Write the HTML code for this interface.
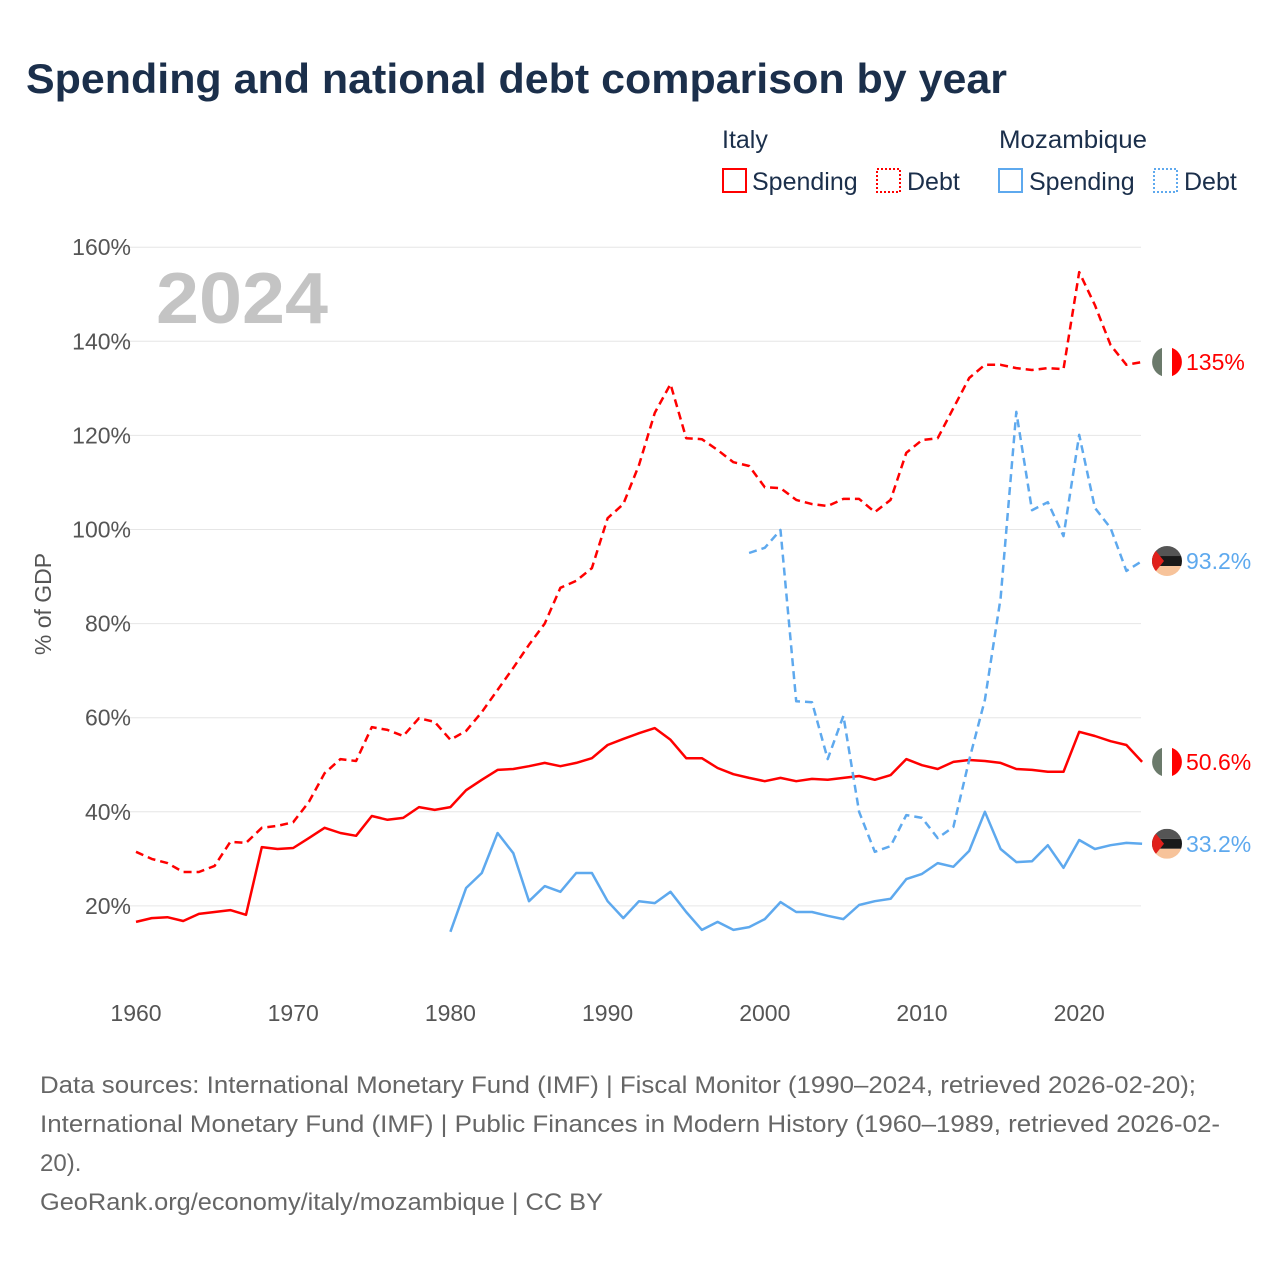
<!DOCTYPE html>
<html><head><meta charset="utf-8">
<style>
html,body{margin:0;padding:0;background:#fff;}
body{width:1280px;height:1280px;overflow:hidden;font-family:"Liberation Sans",sans-serif;}
svg text{font-family:"Liberation Sans",sans-serif;}
</style></head>
<body>
<svg id="chart" width="1280" height="1280" viewBox="0 0 1280 1280">
<text x="26" y="93" font-size="42" font-weight="bold" fill="#1b2f4b" textLength="981" lengthAdjust="spacingAndGlyphs">Spending and national debt comparison by year</text>
<g font-size="25" fill="#1b2f4b">
  <text x="722" y="148">Italy</text>
  <text x="999" y="148" textLength="148" lengthAdjust="spacingAndGlyphs">Mozambique</text>
  <g><rect x="723" y="169" width="23" height="23" fill="none" stroke="#ff0000" stroke-width="2"/><text x="752" y="190">Spending</text></g>
  <g><rect x="877" y="169" width="23" height="23" fill="none" stroke="#ff0000" stroke-width="2" stroke-dasharray="2,2"/><text x="907" y="190">Debt</text></g>
  <g><rect x="999" y="169" width="23" height="23" fill="none" stroke="#5ea9ee" stroke-width="2"/><text x="1029" y="190">Spending</text></g>
  <g><rect x="1154" y="169" width="23" height="23" fill="none" stroke="#5ea9ee" stroke-width="2" stroke-dasharray="2,2"/><text x="1184" y="190">Debt</text></g>
</g>
<g id="grid"></g>
<g id="yticks" font-size="23" fill="#555" text-anchor="end"></g>
<g id="xticks" font-size="23" fill="#555" text-anchor="middle"></g>
<text transform="translate(51,604) rotate(-90)" font-size="23" fill="#555" text-anchor="middle">% of GDP</text>
<text x="156" y="323" font-size="72" font-weight="bold" fill="#c4c4c4" textLength="172" lengthAdjust="spacingAndGlyphs">2024</text>
<g id="series"></g>
<g id="endlabels" font-size="23"></g>
<g font-size="24" fill="#666">
<text x="40" y="1093" textLength="1156" lengthAdjust="spacingAndGlyphs">Data sources: International Monetary Fund (IMF) | Fiscal Monitor (1990–2024, retrieved 2026-02-20);</text>
<text x="40" y="1132" textLength="1180" lengthAdjust="spacingAndGlyphs">International Monetary Fund (IMF) | Public Finances in Modern History (1960–1989, retrieved 2026-02-</text>
<text x="40" y="1171">20).</text>
<text x="40" y="1210" textLength="563" lengthAdjust="spacingAndGlyphs">GeoRank.org/economy/italy/mozambique | CC BY</text>
</g>
</svg>
<script>
const yTicks=[20,40,60,80,100,120,140,160];
const xTicks=[1960,1970,1980,1990,2000,2010,2020];
const italyStartYear=1960;
const italySpending=[16.6,17.4,17.6,16.8,18.3,18.7,19.1,18.1,32.5,32.1,32.3,34.4,36.6,35.5,34.9,39.1,38.3,38.7,41.0,40.4,41.0,44.6,46.8,48.9,49.1,49.7,50.4,49.7,50.4,51.4,54.2,55.5,56.7,57.8,55.3,51.4,51.4,49.3,48.0,47.2,46.5,47.2,46.5,47.0,46.8,47.2,47.6,46.8,47.8,51.2,49.9,49.1,50.6,51.0,50.8,50.4,49.1,48.9,48.5,48.5,57.0,56.1,55.0,54.2,50.6];
const italyDebt=[31.5,30.0,29.1,27.2,27.2,28.5,33.6,33.4,36.6,37.0,37.8,42.1,48.2,51.2,50.8,58.0,57.4,56.1,59.9,59.1,55.3,57.2,61.2,65.9,70.6,75.5,80.0,87.6,89.1,91.8,102.4,105.4,113.7,124.8,130.9,119.4,119.2,116.9,114.3,113.5,109.0,108.8,106.3,105.4,105.0,106.5,106.5,103.7,106.3,116.3,119.0,119.4,125.8,132.2,135.0,135.0,134.3,133.9,134.3,134.1,154.7,147.7,139.2,135.0,135.6];
const mozSpendingStart=1980;
const mozSpending=[14.5,23.8,27.0,35.5,31.2,21.0,24.2,23.0,27.0,27.0,21.0,17.4,21.0,20.6,23.0,18.7,14.9,16.6,14.9,15.5,17.2,20.8,18.7,18.7,17.9,17.2,20.2,21.0,21.5,25.7,26.8,29.1,28.3,31.7,40.0,32.1,29.3,29.5,32.9,28.1,34.0,32.1,32.9,33.4,33.2];
const mozDebtStart=1999;
const mozDebt=[95.0,96.1,99.9,63.5,63.3,51.2,60.4,40.0,31.5,32.7,39.3,38.7,34.4,36.8,51.0,63.8,85.4,125.0,104.1,105.8,98.6,120.1,104.6,100.3,91.2,93.3];
const endLabels=["135%","93.2%","50.6%","33.2%"];

const NS="http://www.w3.org/2000/svg";
const X=yr=>136+(yr-1960)*15.72;
const Y=v=>1000-v*4.705;
function mk(tag,attrs,parent){const e=document.createElementNS(NS,tag);for(const k in attrs)e.setAttribute(k,attrs[k]);parent.appendChild(e);return e;}
const grid=document.getElementById('grid'),yt=document.getElementById('yticks'),xt=document.getElementById('xticks');
yTicks.forEach(v=>{
  const l=mk('line',{x1:110,x2:1141,y1:Y(v),y2:Y(v),stroke:'#e6e6e6','stroke-width':1},grid);
  
  
  const t=mk('text',{x:131,y:Y(v)+8},yt);t.textContent=v+'%';
  
  
});
xTicks.forEach(v=>{
  const t=mk('text',{x:X(v),y:1021},xt);t.textContent=v;
  
  
});
const ser=document.getElementById('series');
function line(arr,start,color,dash,name){
  const d=arr.map((v,i)=>(i?'L':'M')+X(start+i).toFixed(1)+','+Y(v).toFixed(1)).join('');
  const p=mk('path',{d:d,fill:'none',stroke:color,'stroke-width':2.5,'stroke-linejoin':'round'},ser);
  if(dash)p.setAttribute('stroke-dasharray','8,5');
  
  
}
line(italyDebt,italyStartYear,'#ff0000',true,'italy-debt-line');
line(italySpending,italyStartYear,'#ff0000',false,'italy-spending-line');
line(mozDebt,mozDebtStart,'#5ea9ee',true,'mozambique-debt-line');
line(mozSpending,mozSpendingStart,'#5ea9ee',false,'mozambique-spending-line');

const el=document.getElementById('endlabels');
const lastVals=[italyDebt[italyDebt.length-1],mozDebt[mozDebt.length-1],italySpending[italySpending.length-1],mozSpending[mozSpending.length-1]];
const colors=['#ff0000','#5ea9ee','#ff0000','#5ea9ee'];
const isItaly=[true,false,true,false];
lastVals.forEach((v,i)=>{
  const cy=Y(v),cx=1167;
  const g=mk('g',{},el);
  
  
  if(isItaly[i]){
    mk('circle',{cx:cx,cy:cy,r:15,fill:'#ffffff'},g);
    mk('path',{d:`M${cx-5},${cy-14.1}A15,15 0 0 0 ${cx-5},${cy+14.1}Z`,fill:'#6b7a6b'},g);
    mk('path',{d:`M${cx+5},${cy-14.1}A15,15 0 0 1 ${cx+5},${cy+14.1}Z`,fill:'#ff0000'},g);
  } else {
    const cid='clip'+i;
    const cp=mk('clipPath',{id:cid},g);mk('circle',{cx:cx,cy:cy,r:15},cp);
    const gg=mk('g',{'clip-path':`url(#${cid})`},g);
    mk('rect',{x:cx-15,y:cy-15,width:30,height:10,fill:'#555'},gg);
    mk('rect',{x:cx-15,y:cy-5,width:30,height:10,fill:'#1a1a1a'},gg);
    mk('rect',{x:cx-15,y:cy+5,width:30,height:10,fill:'#f7c39a'},gg);
    mk('path',{d:`M${cx-15},${cy-15}L${cx-3},${cy}L${cx-15},${cy+15}Z`,fill:'#e0201b'},gg);
  }
  const t=mk('text',{x:1186,y:cy+8,fill:colors[i]},el);t.textContent=endLabels[i];
  
  
});
</script>
</body></html>
